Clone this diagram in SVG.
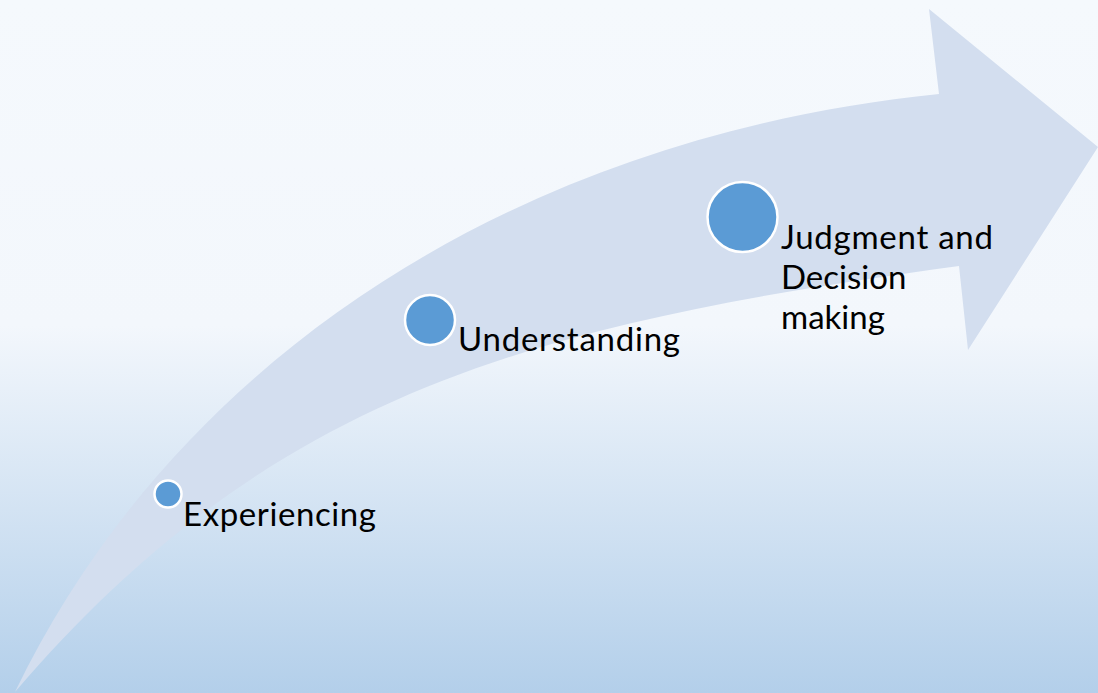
<svg xmlns="http://www.w3.org/2000/svg" width="1098" height="693" viewBox="0 0 1098 693">
<defs>
<linearGradient id="bg" x1="0" y1="0" x2="0" y2="693" gradientUnits="userSpaceOnUse">
<stop offset="0" stop-color="#f5f9fd"/>
<stop offset="0.47" stop-color="#f3f7fc"/>
<stop offset="1" stop-color="#b3cfea"/>
</linearGradient>
<style>
.arrow{fill:#d3deef}
.dot{fill:#5b9bd5;stroke:#ffffff;stroke-width:2.5}
.lbl{font-family:Lato,"Open Sans","Liberation Sans",sans-serif;font-size:33px;fill:#000000}
</style>
</defs>
<rect x="0" y="0" width="1098" height="693" fill="url(#bg)"/>
<g id="arrow">
<path class="arrow" d="M15,692 C185,340 541,134 939,94 L929,9 L1098,147 L968,350 L959,266 C543,323 275,388 15,692 Z"/>
</g>
<g id="node-experiencing">
<circle class="dot" cx="168" cy="494" r="13.5"/>
<text class="lbl" x="183" y="526" textLength="193" lengthAdjust="spacing">Experiencing</text>
</g>
<g id="node-understanding">
<circle class="dot" cx="430" cy="320" r="25"/>
<text class="lbl" x="458" y="351" textLength="222" lengthAdjust="spacing">Understanding</text>
</g>
<g id="node-judgment">
<circle class="dot" cx="742.5" cy="217" r="35"/>
<text class="lbl" x="781" y="249" textLength="212" lengthAdjust="spacing">Judgment and</text>
<text class="lbl" x="781" y="289">Decision</text>
<text class="lbl" x="781" y="329">making</text>
</g>
</svg>
